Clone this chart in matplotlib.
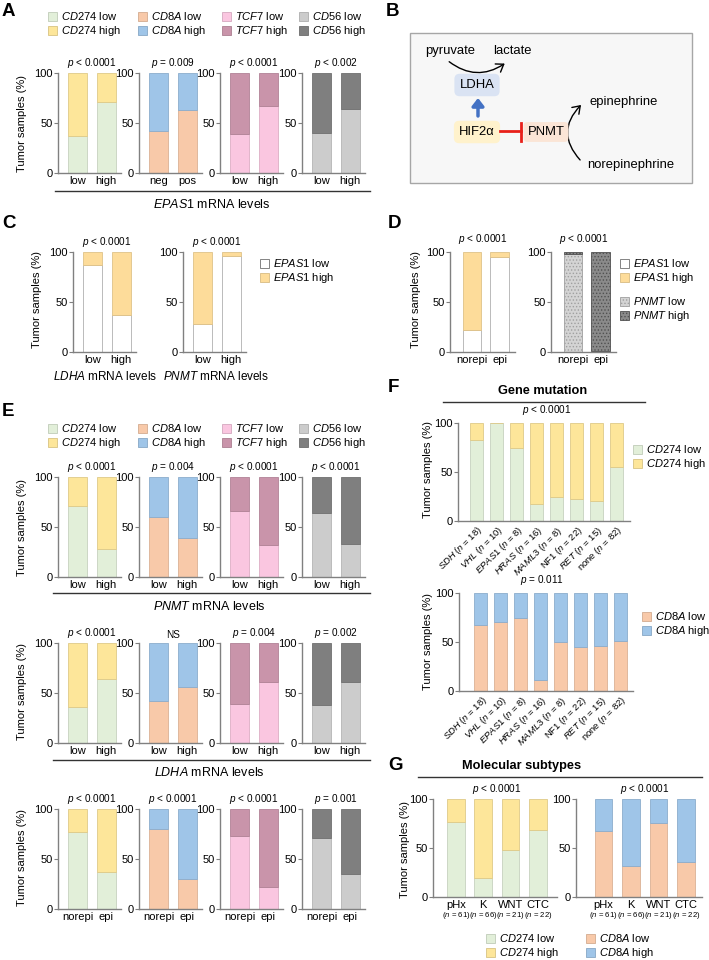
import numpy as np
import matplotlib
matplotlib.use('Agg')
import matplotlib.pyplot as plt
import matplotlib.colors as mcolors
from matplotlib.patches import Patch, Rectangle, FancyArrowPatch

plt.rcParams.update({
    'font.family': ['Liberation Sans', 'DejaVu Sans'],
    'mathtext.fontset': 'custom',
    'mathtext.rm': 'Liberation Sans',
    'mathtext.it': 'Liberation Sans:italic',
    'hatch.linewidth': 0.6,
})

# ---- data (percent of tumor samples in the "low" class) ----
lvl = ['low', 'high']
ne = ['norepi', 'epi']

# A: EPAS1 mRNA levels
a_x = ['low', 'high']
a_x2 = ['neg', 'pos']
a_cd274_low = [37, 71]
a_cd8a_low = [42, 63]
a_tcf7_low = [39, 67]
a_cd56_low = [40, 64]
a_p = ['< 0.0001', '= 0.009', '< 0.0001', '< 0.002']

# C: EPAS1 low by LDHA / PNMT levels
c_ldha_epas1_low = [87, 37]
c_pnmt_epas1_low = [28, 96]

# D: norepi / epi
d_epas1_low = [22, 95]
d_pnmt_low = [98, 1]

# E: PNMT levels, LDHA levels, norepi/epi
e1_low = {'CD274': [71, 28], 'CD8A': [60, 39], 'TCF7': [66, 32], 'CD56': [64, 33]}
e1_p = ['< 0.0001', '= 0.004', '< 0.0001', '< 0.0001']
e2_low = {'CD274': [36, 64], 'CD8A': [42, 56], 'TCF7': [39, 61], 'CD56': [38, 61]}
e2_p = ['< 0.0001', None, '= 0.004', '= 0.002']
e3_low = {'CD274': [77, 37], 'CD8A': [80, 30], 'TCF7': [73, 22], 'CD56': [71, 35]}
e3_p = ['< 0.0001', '< 0.0001', '< 0.0001', '= 0.001']

# F: gene mutation
f_genes = ['SDH', 'VHL', 'EPAS1', 'HRAS', 'MAML3', 'NF1', 'RET', 'none']
f_italic = [True, True, True, True, True, False, True, False]
f_n = [18, 10, 8, 16, 8, 22, 15, 82]
f_cd274_low = [83, 100, 75, 17, 25, 22, 20, 55]
f_cd8a_low = [67, 70, 75, 11, 50, 45, 46, 51]

# G: molecular subtypes
g_types = ['pHx', 'K', 'WNT', 'CTC']
g_n = [61, 66, 21, 22]
g_cd274_low = [77, 19, 48, 68]
g_cd8a_low = [67, 32, 76, 36]

cols = {
    'CD274': ('#e2efd9', '#fde69a'),
    'CD8A': ('#f8c9a9', '#9fc5e8'),
    'TCF7': ('#fac6e0', '#c994aa'),
    'CD56': ('#cccccc', '#7f7f7f'),
    'EPAS1': ('#ffffff', '#fddc9a'),
    'PNMT': ('#d4d4d4', '#8a8a8a'),
}

W, H = 709, 960
fig = plt.figure(figsize=(W / 100, H / 100), dpi=100)


def it(s):
    return r'$\mathit{' + s + '}$'


def darker(c, f=0.88):
    r, g, b = mcolors.to_rgb(c)
    return (r * f, g * f, b * f)


def add_ax(x0, y_top, w, y_bot):
    return fig.add_axes([x0 / W, 1 - y_bot / H, w / W, (y_bot - y_top) / H])


def stacked(ax, labels, low, gene, xlim, width=0.67, hatch=(None, None), fs=8):
    x = np.arange(len(labels))
    low = np.array(low, float)
    c_lo, c_hi = cols[gene]
    e_lo = '#b0b0b0' if gene == 'EPAS1' else darker(c_lo)
    e_hi = darker(c_hi)
    if gene == 'PNMT':
        e_lo, e_hi = '#a0a0a0', '#505050'
    ax.bar(x, low, width, color=c_lo, edgecolor=e_lo, lw=0.6, hatch=hatch[0])
    ax.bar(x, 100 - low, width, bottom=low, color=c_hi, edgecolor=e_hi, lw=0.6, hatch=hatch[1])
    ax.set_xlim(*xlim)
    ax.set_ylim(0, 100)
    for s in ['top', 'right']:
        ax.spines[s].set_visible(False)
    for s in ['left', 'bottom']:
        ax.spines[s].set_color('#808080')
        ax.spines[s].set_linewidth(1)
    ax.set_yticks([0, 50, 100])
    ax.tick_params(axis='y', length=3, width=0.8, color='#808080', labelsize=8, pad=1)
    ax.tick_params(axis='x', length=0, labelsize=fs, pad=2)
    ax.set_xticks(x)
    ax.set_xticklabels(labels)
    return x


def ptext(ax, x, y, p):
    txt = 'NS' if p is None else it('p') + ' ' + p
    ax.text(x, y, txt, ha='center', va='bottom', fontsize=7.2, clip_on=False)


def legend(x, y, genes_states, fs=8):
    handles = []
    for gene, state in genes_states:
        c = cols[gene][0 if state == 'low' else 1]
        if gene == 'EPAS1' and state == 'low':
            e = '#707070'
        elif gene == 'PNMT':
            e = '#a0a0a0' if state == 'low' else '#505050'
        else:
            e = darker(c, 0.85)
        h = '.....' if gene == 'PNMT' else None
        handles.append(Patch(facecolor=c, edgecolor=e, lw=0.6, hatch=h,
                             label=it(gene) + ' ' + state))
    fig.legend(handles=handles, loc='upper left', bbox_to_anchor=(x / W, 1 - y / H),
               frameon=False, fontsize=fs, handlelength=0.85, handleheight=0.85,
               handletextpad=0.35, labelspacing=0.22, borderpad=0, borderaxespad=0)


ov = fig.add_axes([0, 0, 1, 1])
ov.set_xlim(0, W)
ov.set_ylim(H, 0)
ov.axis('off')

xl2 = (-0.68, 1.52)
spines4 = [58, 139, 220, 302]
genes4 = ['CD274', 'CD8A', 'TCF7', 'CD56']


def row4(y_top, data, pvals, xlabels):
    for i, g in enumerate(genes4):
        ax = add_ax(spines4[i], y_top, 63, y_top + 100)
        labs = xlabels[i] if isinstance(xlabels[0], list) else xlabels
        stacked(ax, labs, data[g], g, xl2)
        ptext(ax, 0.5, 103, pvals[i])


def legend4(y):
    for x, g in zip([48, 138, 222, 299], genes4):
        legend(x, y, [(g, 'low'), (g, 'high')])


# ---- A ----
legend4(10)
row4(73, {'CD274': a_cd274_low, 'CD8A': a_cd8a_low, 'TCF7': a_tcf7_low, 'CD56': a_cd56_low},
     a_p, [a_x, a_x2, a_x, a_x])
ov.plot([55, 370], [191, 191], color='#333333', lw=1)
ov.text(212, 204, it('EPAS1') + ' mRNA levels', ha='center', va='center', fontsize=9)
ov.text(22, 124, 'Tumor samples (%)', rotation=90, ha='center', va='center', fontsize=8)

# ---- B ----
ov.add_patch(Rectangle((410, 33), 282, 150, facecolor='#f7f7f7', edgecolor='#a6a6a6', lw=1))
ov.text(450, 51, 'pyruvate', ha='center', va='center', fontsize=9.4)
ov.text(512, 51, 'lactate', ha='center', va='center', fontsize=9.4)
ov.add_patch(FancyArrowPatch((447, 60), (507, 62), connectionstyle='arc3,rad=0.38',
                             arrowstyle='->,head_length=5,head_width=3.5', lw=1, color='black'))
ov.text(477, 85, 'LDHA', ha='center', va='center', fontsize=9.4,
        bbox=dict(boxstyle='round,pad=0.4', fc='#dae3f3', ec='none'))
ov.annotate('', xy=(478, 98), xytext=(478, 116),
            arrowprops=dict(arrowstyle='-|>,head_width=0.35,head_length=0.45',
                            color='#4472c4', lw=2.5, shrinkA=0, shrinkB=0))
ov.text(477, 132, 'HIF2α', ha='center', va='center', fontsize=9.4,
        bbox=dict(boxstyle='round,pad=0.4', fc='#fff2cc', ec='none'))
ov.text(546, 132, 'PNMT', ha='center', va='center', fontsize=9.4,
        bbox=dict(boxstyle='round,pad=0.3', fc='#fbe5d6', ec='none'))
ov.plot([500, 521], [131, 131], color='#e8201a', lw=2, zorder=5)
ov.plot([521, 521], [123, 141], color='#e8201a', lw=2, zorder=5)
ov.add_patch(FancyArrowPatch((582, 162), (583, 103), connectionstyle='arc3,rad=-0.5',
                             arrowstyle='->,head_length=5,head_width=3.5', lw=1, color='black'))
ov.text(590, 102, 'epinephrine', ha='left', va='center', fontsize=9.4)
ov.text(587, 165, 'norepinephrine', ha='left', va='center', fontsize=9.4)

# ---- C ----
ax = add_ax(73, 252, 63, 352)
stacked(ax, lvl, c_ldha_epas1_low, 'EPAS1', xl2)
ptext(ax, 0.5, 103, '< 0.0001')
ax = add_ax(183, 252, 63, 352)
stacked(ax, lvl, c_pnmt_epas1_low, 'EPAS1', xl2)
ptext(ax, 0.5, 103, '< 0.0001')
legend(260, 257, [('EPAS1', 'low'), ('EPAS1', 'high')])
ov.text(37, 300, 'Tumor samples (%)', rotation=90, ha='center', va='center', fontsize=8)
ov.text(105, 377, it('LDHA') + ' mRNA levels', ha='center', va='center', fontsize=8.5)
ov.text(216, 377, it('PNMT') + ' mRNA levels', ha='center', va='center', fontsize=8.5)

# ---- D ----
xl_d = (-0.79, 1.55)
ax = add_ax(450, 252, 65, 352)
stacked(ax, ne, d_epas1_low, 'EPAS1', xl_d)
ptext(ax, 0.4, 106, '< 0.0001')
ax = add_ax(551, 252, 65, 352)
stacked(ax, ne, d_pnmt_low, 'PNMT', xl_d, hatch=('.....', '.....'))
ptext(ax, 0.4, 106, '< 0.0001')
legend(620, 257, [('EPAS1', 'low'), ('EPAS1', 'high')])
legend(620, 295, [('PNMT', 'low'), ('PNMT', 'high')])
ov.text(416, 299, 'Tumor samples (%)', rotation=90, ha='center', va='center', fontsize=8)

# ---- E ----
legend4(422)
row4(477, e1_low, e1_p, lvl)
ov.plot([53, 370], [593, 593], color='#333333', lw=1)
ov.text(209, 606, it('PNMT') + ' mRNA levels', ha='center', va='center', fontsize=9)
row4(643, e2_low, e2_p, lvl)
ov.plot([53, 370], [760, 760], color='#333333', lw=1)
ov.text(209, 772, it('LDHA') + ' mRNA levels', ha='center', va='center', fontsize=9)
row4(809, e3_low, e3_p, ne)
for yc in [527, 692, 858]:
    ov.text(22, yc, 'Tumor samples (%)', rotation=90, ha='center', va='center', fontsize=8)

# ---- F ----
f_labels = [(it(g) if fi else g) + ' (' + it('n') + ' = %d)' % n
            for g, fi, n in zip(f_genes, f_italic, f_n)]
ov.text(543, 391, 'Gene mutation', ha='center', va='center', fontsize=9.2, fontweight='bold')
ov.plot([443, 645], [402, 402], color='#333333', lw=1)
ax = add_ax(458, 423, 172, 521)
stacked(ax, f_labels, f_cd274_low, 'CD274', (-0.94, 7.7), width=0.65, fs=6.8)
ax.set_xticklabels(f_labels, rotation=45, ha='right', rotation_mode='anchor')
ptext(ax, 3.5, 106, '< 0.0001')
legend(633, 443, [('CD274', 'low'), ('CD274', 'high')])
ov.text(428, 470, 'Tumor samples (%)', rotation=90, ha='center', va='center', fontsize=8)

ax = add_ax(459, 593, 174, 691)
stacked(ax, f_labels, f_cd8a_low, 'CD8A', (-1.1, 7.65), width=0.65, fs=6.8)
ax.set_xticklabels(f_labels, rotation=45, ha='right', rotation_mode='anchor')
ptext(ax, 3.05, 106, '= 0.011')
legend(642, 610, [('CD8A', 'low'), ('CD8A', 'high')])
ov.text(428, 642, 'Tumor samples (%)', rotation=90, ha='center', va='center', fontsize=8)

# ---- G ----
ov.text(522, 766, 'Molecular subtypes', ha='center', va='center', fontsize=9.2, fontweight='bold')
ov.plot([418, 702], [777, 777], color='#333333', lw=1)
for x0, w, xl, low, gene in [(433, 124, (-0.83, 3.7), g_cd274_low, 'CD274'),
                             (576, 126, (-1.0, 3.58), g_cd8a_low, 'CD8A')]:
    ax = add_ax(x0, 799, w, 897)
    xs = stacked(ax, g_types, low, gene, xl, width=0.65)
    ptext(ax, 1.5, 103, '< 0.0001')
    for xi, n in zip(xs, g_n):
        ax.text(xi, -19, '(' + it('n') + ' = %d)' % n, ha='center', va='center',
                fontsize=5.6, clip_on=False)
ov.text(405, 849, 'Tumor samples (%)', rotation=90, ha='center', va='center', fontsize=8)
legend(486, 932, [('CD274', 'low'), ('CD274', 'high')])
legend(586, 932, [('CD8A', 'low'), ('CD8A', 'high')])

# ---- panel letters ----
for letter, x, y in [('A', 2, 12), ('B', 386, 11), ('C', 2, 223), ('D', 388, 223),
                     ('E', 2, 412), ('F', 388, 388), ('G', 388, 765)]:
    ov.text(x, y, letter, ha='left', va='center', fontsize=13.5, fontweight='bold')

fig.savefig('out.png', dpi=100)
